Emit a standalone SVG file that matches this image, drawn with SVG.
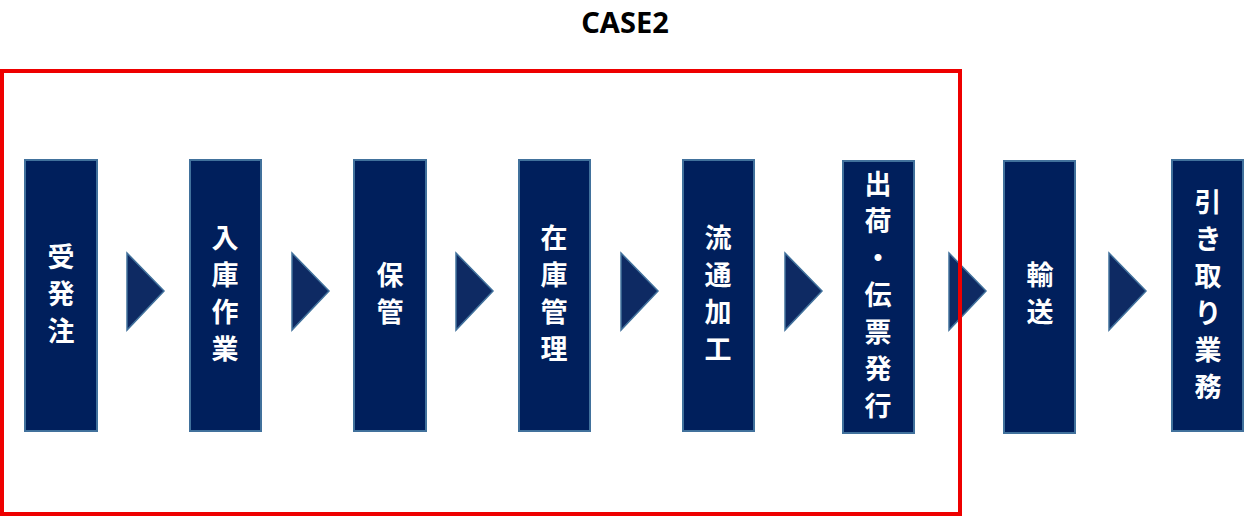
<svg xmlns="http://www.w3.org/2000/svg" width="1254" height="523" viewBox="0 0 1254 523">
<style>
.b{fill:#001f5c;stroke:#41719c;stroke-width:2}
.a{fill:#0e2a63;stroke:#41719c;stroke-width:1.5}
.t{fill:#fff;font-family:"Noto Sans CJK JP",sans-serif;font-weight:bold;font-size:27px;text-anchor:middle}
.h{fill:#000;font-family:"Noto Sans","Liberation Sans",sans-serif;font-weight:bold;font-size:29px;text-anchor:middle}
</style>
<rect width="1254" height="523" fill="#fff"/>
<text class="h" x="625" y="33">CASE2</text>
<g id="connectors">
<polygon class="a" points="127,253 164,291 127,330"/>
<polygon class="a" points="292,253 329,291 292,330"/>
<polygon class="a" points="456,253 493,291 456,330"/>
<polygon class="a" points="621,253 658,291 621,330"/>
<polygon class="a" points="785,253 822,291 785,330"/>
<polygon class="a" points="949,253 986,291 949,330"/>
<polygon class="a" points="1109,253 1146,291 1109,330"/>
</g>
<g id="n1"><rect class="b" x="25" y="160" width="72" height="271"/><text class="t"><tspan x="61" y="267">受</tspan><tspan x="61" y="304">発</tspan><tspan x="61" y="341">注</tspan></text></g>
<g id="n2"><rect class="b" x="190" y="160" width="71" height="271"/><text class="t"><tspan x="225" y="248">入</tspan><tspan x="225" y="285">庫</tspan><tspan x="225" y="322">作</tspan><tspan x="225" y="359">業</tspan></text></g>
<g id="n3"><rect class="b" x="354" y="160" width="72" height="271"/><text class="t"><tspan x="390" y="285">保</tspan><tspan x="390" y="322">管</tspan></text></g>
<g id="n4"><rect class="b" x="519" y="160" width="71" height="271"/><text class="t"><tspan x="554" y="248">在</tspan><tspan x="554" y="285">庫</tspan><tspan x="554" y="322">管</tspan><tspan x="554" y="359">理</tspan></text></g>
<g id="n5"><rect class="b" x="683" y="160" width="71" height="271"/><text class="t"><tspan x="718" y="248">流</tspan><tspan x="718" y="285">通</tspan><tspan x="718" y="322">加</tspan><tspan x="718" y="359">工</tspan></text></g>
<g id="n6"><rect class="b" x="843" y="161" width="71" height="272"/><text class="t"><tspan x="878" y="194">出</tspan><tspan x="878" y="231">荷</tspan><tspan x="878" y="268">・</tspan><tspan x="878" y="305">伝</tspan><tspan x="878" y="342">票</tspan><tspan x="878" y="379">発</tspan><tspan x="878" y="416">行</tspan></text></g>
<g id="n7"><rect class="b" x="1004" y="161" width="71" height="272"/><text class="t"><tspan x="1040" y="285">輸</tspan><tspan x="1040" y="322">送</tspan></text></g>
<g id="n8"><rect class="b" x="1172" y="160" width="71" height="271"/><text class="t"><tspan x="1208" y="212">引</tspan><tspan x="1208" y="249">き</tspan><tspan x="1208" y="286">取</tspan><tspan x="1208" y="323">り</tspan><tspan x="1208" y="360">業</tspan><tspan x="1208" y="397">務</tspan></text></g>
<rect x="2" y="71" width="958" height="443" fill="none" stroke="#ee0000" stroke-width="4"/>
</svg>
